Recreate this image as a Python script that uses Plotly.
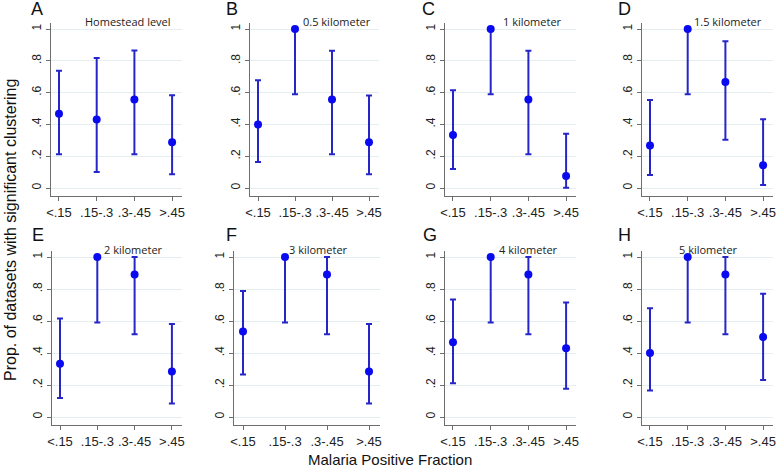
import plotly.graph_objects as go

W, H = 778, 471

categories = ["<.15", ".15-.3", ".3-.45", ">.45"]
panel_letters = ["A", "B", "C", "D", "E", "F", "G", "H"]
panel_titles = ["Homestead level", "0.5 kilometer", "1 kilometer", "1.5 kilometer",
                "2 kilometer", "3 kilometer", "4 kilometer", "5 kilometer"]

# point estimates and confidence limits per panel
est_A = [0.467, 0.431, 0.557, 0.287]
lo_A = [0.212, 0.100, 0.212, 0.086]
hi_A = [0.737, 0.818, 0.865, 0.584]

est_B = [0.400, 1.000, 0.557, 0.287]
lo_B = [0.164, 0.590, 0.213, 0.087]
hi_B = [0.678, 1.000, 0.863, 0.582]

est_C = [0.333, 1.000, 0.557, 0.075]
lo_C = [0.120, 0.590, 0.213, 0.002]
hi_C = [0.614, 1.000, 0.863, 0.341]

est_D = [0.268, 1.000, 0.667, 0.143]
lo_D = [0.081, 0.590, 0.304, 0.019]
hi_D = [0.553, 1.000, 0.923, 0.432]

est_E = [0.333, 1.000, 0.890, 0.285]
lo_E = [0.119, 0.590, 0.517, 0.085]
hi_E = [0.615, 1.000, 1.000, 0.581]

est_F = [0.535, 1.000, 0.890, 0.285]
lo_F = [0.265, 0.590, 0.517, 0.085]
hi_F = [0.787, 1.000, 1.000, 0.581]

est_G = [0.467, 1.000, 0.890, 0.429]
lo_G = [0.211, 0.590, 0.517, 0.176]
hi_G = [0.735, 1.000, 1.000, 0.715]

est_H = [0.400, 1.000, 0.890, 0.500]
lo_H = [0.165, 0.590, 0.517, 0.231]
hi_H = [0.679, 1.000, 1.000, 0.771]

estimates = [est_A, est_B, est_C, est_D, est_E, est_F, est_G, est_H]
lowers = [lo_A, lo_B, lo_C, lo_D, lo_E, lo_F, lo_G, lo_H]
uppers = [hi_A, hi_B, hi_C, hi_D, hi_E, hi_F, hi_G, hi_H]

y_tickvals = [0, 0.2, 0.4, 0.6, 0.8, 1.0]
y_ticktext = ["0", ".2", ".4", ".6", ".8", "1"]

# layout geometry (pixels): first-tick x position and category spacing
tick0_px = [59, 258, 453, 650, 60, 243, 453, 650]
spacing_px = [37.7, 37.0, 37.7, 37.7, 37.3, 42.0, 37.7, 37.7]
letter_px = [37, 232, 428, 624, 38, 231, 430, 624]
title_px = [128, 337, 532, 728, 133, 318, 528, 708]
XR = [-0.22, 3.27]
YR = [-0.05, 1.04]
row_y1 = [29, 257]    # pixel of y=1
row_y0 = [188, 417]   # pixel of y=0

fig = go.Figure()

for i in range(8):
    row = i // 4
    ax = "" if i == 0 else str(i + 1)
    t0, sp = tick0_px[i], spacing_px[i]
    left = t0 + XR[0] * sp
    right = t0 + XR[1] * sp
    ppu = row_y0[row] - row_y1[row]
    top = row_y1[row] - (YR[1] - 1) * ppu
    bot = row_y0[row] - YR[0] * ppu
    est, lo, hi = estimates[i], lowers[i], uppers[i]
    fig.add_trace(go.Scatter(
        x=list(range(len(categories))), y=est,
        mode="markers",
        marker=dict(color="#0a0af0", size=8),
        error_y=dict(type="data", symmetric=False,
                     array=[h - e for h, e in zip(hi, est)],
                     arrayminus=[e - l for e, l in zip(est, lo)],
                     color="#2626c8", thickness=2, width=3),
        xaxis="x" + ax, yaxis="y" + ax, showlegend=False,
        hoverinfo="skip",
    ))
    fig.layout["xaxis" + ax] = dict(
        domain=[left / W, right / W], range=XR, anchor="y" + ax,
        tickvals=list(range(len(categories))), ticktext=categories,
        showgrid=False, zeroline=False, showline=True, linecolor="#6e6e6e",
        linewidth=1.2, ticks="outside", ticklen=4, tickcolor="#6e6e6e",
        tickfont=dict(family="Liberation Sans, Arial", size=13, color="#222"),
        fixedrange=True, automargin=False,
    )
    fig.layout["yaxis" + ax] = dict(
        domain=[1 - bot / H, 1 - top / H], range=YR, anchor="x" + ax,
        tickvals=y_tickvals, ticktext=y_ticktext, tickangle=-90,
        showgrid=True, gridcolor="#e4eef0", gridwidth=1, zeroline=False,
        showline=True, linecolor="#6e6e6e", linewidth=1.2,
        ticks="outside", ticklen=4, tickcolor="#6e6e6e",
        tickfont=dict(family="Liberation Sans, Arial", size=12, color="#222"),
        fixedrange=True, automargin=False,
    )
    fig.add_annotation(x=letter_px[i] / W, y=1 - (9 + row * 226) / H,
                       xref="paper", yref="paper", text=panel_letters[i],
                       showarrow=False, xanchor="center", yanchor="middle",
                       font=dict(family="Liberation Sans, Arial", size=18, color="#111"))
    fig.add_annotation(x=title_px[i] / W, y=1 - (22 + row * 227) / H,
                       xref="paper", yref="paper", text=panel_titles[i],
                       showarrow=False, xanchor="center", yanchor="middle",
                       font=dict(family="Open Sans, Noto Sans", size=11, color="#222"))

fig.add_annotation(x=10 / W, y=1 - 230 / H, xref="paper", yref="paper",
                   text="Prop. of datasets with significant clustering",
                   textangle=-90, showarrow=False, xanchor="center", yanchor="middle",
                   font=dict(family="Liberation Sans, Arial", size=16, color="#111"))
fig.add_annotation(x=390 / W, y=1 - 459 / H, xref="paper", yref="paper",
                   text="Malaria Positive Fraction", showarrow=False,
                   xanchor="center", yanchor="middle",
                   font=dict(family="Liberation Sans, Arial", size=15, color="#111"))

fig.update_layout(width=W, height=H, margin=dict(l=0, r=0, t=0, b=0, autoexpand=False),
                  paper_bgcolor="white", plot_bgcolor="white")

fig.write_html("out.html", config={"displayModeBar": False},
               post_script="document.body.style.margin='0';document.body.style.overflow='hidden';")
